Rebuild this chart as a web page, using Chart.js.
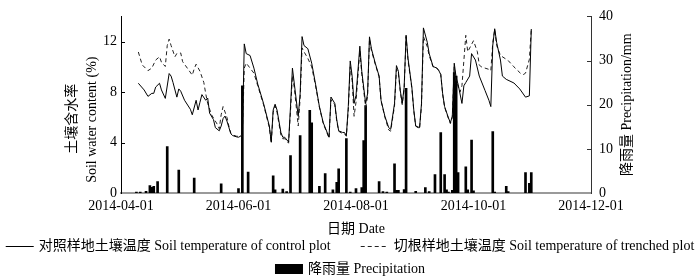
<!DOCTYPE html>
<html><head><meta charset="utf-8">
<script src="https://cdn.jsdelivr.net/npm/chart.js@4.4.1/dist/chart.umd.min.js"></script>
<style>
html,body{margin:0;padding:0;background:#fff;overflow:hidden}
#wrap{width:700px;height:278px;position:relative}
</style></head><body>
<div id="wrap"><canvas id="c"></canvas></div>
<script>
// x values are days since 2014-04-01
const tickDays = [0, 61, 122, 183, 244];
const tickLabels = ['2014-04-01', '2014-06-01', '2014-08-01', '2014-10-01', '2014-12-01'];
const leftTicks = [0, 4, 8, 12];
const rightTicks = [0, 10, 20, 30, 40];

const controlDays = [9,12,14,16,17,18,20,21,23,25,26,27,29,30,31,33,36,37,39,40,41,42,44,45,46,48,49,51,52,53,54,55,56,57,58,60,61,62,63,64,65,67,69,71,74,77,78,79,80,81,83,84,85,87,88,89,90,92,93,94,95,97,99,101,103,105,108,109,111,112,113,115,116,117,118,119,120,121,122,124,125,127,128,129,130,132,134,135,137,139,140,142,143,144,145,146,147,148,149,151,152,153,155,156,157,159,160,162,164,165,166,167,168,170,171,172,173,174,175,177,178,179,181,182,184,186,189,191,192,193,194,195,197,198,200,204,207,210,212,213];
const controlSWC = [8.7,8.17,7.66,7.9,7.9,8.4,8.7,8.17,7.5,9.47,9.27,8.76,7.6,8.25,8.07,7.35,6.64,6.2,7.35,6.58,7.2,7.8,7.35,7.53,6.33,5.82,5.18,4.93,5.31,5.9,6.1,5.7,5.2,4.7,4.55,4.45,4.42,4.5,4.5,11.82,11.05,10.9,9.9,8.63,7.1,5.31,4.04,6.58,7.04,6.58,4.8,4.42,4.42,4.04,6.85,9.9,8.63,6.08,7.86,12.4,11.69,11.44,10.29,8.63,6.85,5.57,4.42,7.61,7.1,5.82,4.93,4.8,4.8,4.55,6.85,10.47,9.27,7.1,7.73,11.64,9.65,7.1,7.86,12.38,11.44,10.29,9.27,7.35,6.08,5.18,5.05,7.1,10.1,9.65,8.12,7.1,8.38,12.51,10.67,8.38,6.58,5.31,5.18,7.1,13.09,11.95,11.05,10.03,9.9,9.7,9.4,7.86,6.85,5.95,5.57,6.08,10.29,9.14,8.63,7.1,8.5,8.76,9.27,11.05,10.54,9.27,8.12,7.35,6.85,11.69,13.02,11.95,10.54,9.27,9.01,8.72,8.25,7.6,7.7,13.0];

const trenchedDays = [9,11,14,16,18,20,21,23,24,25,26,28,29,31,32,35,37,38,39,41,43,44,45,47,50,51,52,53,55,56,57,58,60,61,62,63,64,65,67,69,71,74,77,78,79,80,81,83,84,85,87,88,89,90,92,93,94,95,97,99,101,103,105,108,109,111,112,113,115,116,117,118,119,120,121,122,124,125,127,128,129,130,132,134,135,137,139,140,142,143,144,145,146,147,148,149,151,152,153,155,156,157,159,160,162,164,165,166,167,168,170,171,172,173,174,176,177,179,180,183,185,186,187,191,192,193,194,195,197,200,201,204,206,208,209,210,212,213];
const trenchedSWC = [11.18,10.16,9.7,9.9,10.54,10.8,10.37,10.03,11.69,12.2,11.69,10.8,11.06,11.1,10.41,9.78,9.34,9.85,10.21,9.65,8.76,7.86,7.1,6.2,5.44,5.1,6.2,6.85,6.0,5.3,4.75,4.6,4.5,4.5,4.55,4.5,9.9,10.3,9.9,9.5,8.5,7.0,5.2,3.95,6.4,6.9,6.4,4.6,4.3,4.3,3.95,6.5,9.3,8.3,5.31,7.5,11.5,11.2,10.67,10.0,8.5,6.8,5.5,4.35,7.4,7.0,5.7,4.9,4.7,4.7,4.5,6.6,10.0,8.9,6.08,7.2,11.3,9.4,6.8,7.6,12.2,11.3,10.2,9.2,7.3,6.0,5.0,4.9,6.9,9.8,9.5,8.0,7.0,8.2,12.4,10.5,8.3,6.5,5.3,5.1,6.9,12.4,11.6,10.9,10.0,9.9,9.7,9.4,7.8,6.8,5.9,5.5,6.0,10.0,8.9,8.0,8.5,12.5,11.2,12.07,11.2,10.16,10.0,9.8,9.7,11.9,12.97,11.7,10.9,10.6,10.5,10.0,9.7,9.4,9.4,9.5,10.6,13.0];

const rainDays = [8,10,13,15,16,17,19,24,30,38,52,61,63,66,79,80,84,86,88,93,98,99,103,106,110,112,113,117,119,122,125,126,127,134,136,138,142,143,144,147,148,153,158,160,163,166,168,169,170,172,173,174,175,179,180,182,183,193,194,200,201,210,212,213];
const rainMM = [0.2,0.2,0.4,1.7,1.3,1.5,2.6,10.5,5.2,3.4,2.1,1.0,24.3,4.75,3.9,0.7,0.9,0.3,8.5,13.0,18.7,15.9,1.5,4.4,0.7,2.4,5.5,12.3,0.2,1.0,1.2,11.9,19.8,2.6,0.3,0.2,6.6,0.6,0.6,0.8,23.7,0.4,1.2,0.3,4.2,13.7,4.2,0.7,0.2,0.6,27.3,26.5,4.6,5.9,0.7,12.0,0.5,13.9,0.2,1.5,0.3,4.6,2.2,4.6];

const seriesNames = ['对照样地土壤温度 Soil temperature of control plot', '切根样地土壤温度 Soil temperature of trenched plot', '降雨量 Precipitation'];
const leftTitle = ['土壤含水率', 'Soil water content (%)'];
const rightTitle = '降雨量 Precipitation/mm';
const xTitle = '日期 Date';

const FAMILY = "'Liberation Serif','Noto Sans CJK SC',serif";
const tickFont = {family: FAMILY, size: 14};

const decor = {
  id: 'decor',
  afterDraw(chart) {
    const ctx = chart.ctx, ca = chart.chartArea;
    const ys = chart.scales.y, yr = chart.scales.y1;
    ctx.save();
    // inward tick marks
    ctx.strokeStyle = '#000'; ctx.lineWidth = 1;
    leftTicks.forEach(v => {
      if (v === 0) return;
      const py = Math.round(ys.getPixelForValue(v)) + 0.5;
      ctx.beginPath(); ctx.moveTo(ca.left, py); ctx.lineTo(ca.left + 4, py); ctx.stroke();
    });
    ctx.strokeStyle = '#333';
    rightTicks.forEach(v => {
      if (v === 0) return;
      const py = Math.round(yr.getPixelForValue(v)) + 0.5;
      ctx.beginPath(); ctx.moveTo(ca.right, py); ctx.lineTo(ca.right - 4, py); ctx.stroke();
    });
    // axis titles (rotated, reading bottom to top)
    ctx.fillStyle = '#000'; ctx.textAlign = 'center'; ctx.textBaseline = 'middle';
    ctx.font = '14px ' + FAMILY;
    const midY = (ca.top + ca.bottom) / 2;
    [[leftTitle[0], ca.left - 49, midY + 14], [leftTitle[1], ca.left - 29, midY + 15], [rightTitle, ca.right + 36, midY]].forEach(([t, x, y]) => {
      ctx.save(); ctx.translate(x, y); ctx.rotate(-Math.PI / 2); ctx.fillText(t, 0, 0); ctx.restore();
    });
    // legend
    const rows = [[0, 1], [2]];
    const rowY = [chart.height - 32, chart.height - 9];
    const sw = 28, gapT = 5, gapI = 30;
    ctx.textAlign = 'left';
    rows.forEach((row, r) => {
      const widths = row.map(i => sw + gapT + ctx.measureText(chart.data.datasets[i].label).width);
      const total = widths.reduce((a, b) => a + b, 0) + gapI * (row.length - 1);
      let x = (chart.width - total) / 2;
      const y = rowY[r];
      row.forEach((i, k) => {
        const ds = chart.data.datasets[i];
        if (ds.type === 'bar') {
          ctx.fillStyle = ds.backgroundColor; ctx.fillRect(x, y - 5, sw, 10);
        } else {
          ctx.strokeStyle = ds.borderColor; ctx.lineWidth = 1; ctx.setLineDash(ds.borderDash || []);
          ctx.beginPath(); ctx.moveTo(x, y + 0.5); ctx.lineTo(x + sw, y + 0.5); ctx.stroke(); ctx.setLineDash([]);
        }
        ctx.fillStyle = '#000';
        ctx.fillText(ds.label, x + sw + gapT, y);
        x += widths[k] + gapI;
      });
    });
    ctx.restore();
  }
};

new Chart(document.getElementById('c'), {
  type: 'bar',
  data: {
    datasets: [
      {type: 'line', label: seriesNames[0], data: controlDays.map((d, i) => ({x: d, y: controlSWC[i]})), yAxisID: 'y',
       borderColor: '#000', borderWidth: 1, pointRadius: 0, tension: 0, fill: false, order: 0},
      {type: 'line', label: seriesNames[1], data: trenchedDays.map((d, i) => ({x: d, y: trenchedSWC[i]})), yAxisID: 'y',
       borderColor: '#222', borderWidth: 1, borderDash: [4, 3], pointRadius: 0, tension: 0, fill: false, order: 1},
      {type: 'bar', label: seriesNames[2], data: rainDays.map((d, i) => ({x: d, y: rainMM[i]})), yAxisID: 'y1',
       backgroundColor: '#000', barThickness: 2, order: 2}
    ]
  },
  options: {
    responsive: true, maintainAspectRatio: false, animation: false, devicePixelRatio: 1,
    layout: {padding: {top: 10, left: 0, right: 0, bottom: 0}},
    plugins: {legend: {display: false}, tooltip: {enabled: false}},
    scales: {
      x: {
        type: 'linear', position: 'bottom', min: 0, max: 244, offset: false,
        grid: {display: false, drawTicks: false, offset: false},
        border: {display: true, color: '#9a9a9a', width: 2},
        ticks: {padding: 5, font: tickFont, color: '#000', maxRotation: 0, autoSkip: false,
                callback: (v, i) => tickLabels[i]},
        afterBuildTicks: a => { a.ticks = tickDays.map(v => ({value: v})); },
        afterFit: s => { s.height = 85; },
        title: {display: true, text: xTitle, font: tickFont, color: '#000', padding: {top: 0, bottom: 40}}
      },
      y: {
        position: 'left', min: 0, max: 14,
        grid: {display: false, drawTicks: false},
        border: {display: true, color: '#000', width: 1},
        ticks: {padding: 4, font: tickFont, color: '#000'},
        afterBuildTicks: a => { a.ticks = leftTicks.map(v => ({value: v})); },
        afterFit: s => { s.width = 121; }
      },
      y1: {
        position: 'right', min: 0, max: 40,
        grid: {display: false, drawTicks: false},
        border: {display: true, color: '#333', width: 1},
        ticks: {padding: 8, font: tickFont, color: '#000'},
        afterBuildTicks: a => { a.ticks = rightTicks.map(v => ({value: v})); },
        afterFit: s => { s.width = 109; }
      }
    }
  },
  plugins: [decor]
});
</script>
</body></html>
